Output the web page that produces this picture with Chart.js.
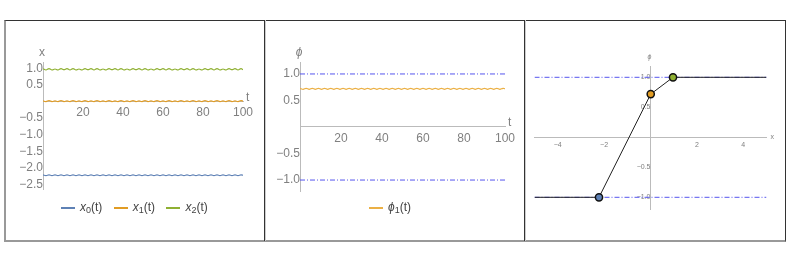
<!DOCTYPE html>
<html>
<head>
<meta charset="utf-8">
<script src="https://cdn.jsdelivr.net/npm/chart.js@4/dist/chart.umd.min.js"></script>
<style>
  body { margin: 0; width: 789px; height: 263px; background: #fff; position: relative; overflow: hidden; font-family: "Liberation Sans", Arial, sans-serif; }
  .panel { position: absolute; top: 20px; width: 260px; height: 221px; }
  .frame { position: absolute; left: 4px; top: 20px; width: 779px; height: 219px; border-top: 1px solid #333; border-right: 1px solid #333; border-left: 2px solid #999; border-bottom: 2px solid #999; pointer-events: none; box-sizing: content-box; }
  .divider { position: absolute; top: 20px; height: 221px; width: 1px; background: #333; border-right: 1px solid #ccc; }
  .legend { position: absolute; top: 200px; font-size: 12px; color: #444; white-space: nowrap; }
  .legend span.item { margin-right: 8px; }
  .legend .ln { display: inline-block; width: 14px; height: 1.5px; vertical-align: middle; margin-right: 5px; }
  .legend sub { font-size: 9px; vertical-align: -2px; }
</style>
</head>
<body>
<div class="panel" style="left:4px"><canvas id="c1"></canvas></div>
<div class="panel" style="left:264px"><canvas id="c2"></canvas></div>
<div class="panel" style="left:524px"><canvas id="c3"></canvas></div>
<div class="frame"></div>
<div class="divider" style="left:264px"></div>
<div class="divider" style="left:524px"></div>
<div class="legend" style="left:61px">
  <span class="item"><span class="ln" style="background:#5e81b5"></span><i>x</i><sub>0</sub>(t)</span>
  <span class="item"><span class="ln" style="background:#e19c24"></span><i>x</i><sub>1</sub>(t)</span>
  <span class="item"><span class="ln" style="background:#8fb032"></span><i>x</i><sub>2</sub>(t)</span>
</div>
<div class="legend" style="left:369px">
  <span class="item"><span class="ln" style="background:#ebb045"></span><i>ϕ</i><sub>1</sub>(t)</span>
</div>
<script>
var tValues = [0,1.5,3,4.5,6,7.5,9,10.5,12,13.5,15,16.5,18,19.5,21,22.5,24,25.5,27,28.5,
  30,31.5,33,34.5,36,37.5,39,40.5,42,43.5,45,46.5,48,49.5,51,52.5,54,55.5,57,58.5,
  60,61.5,63,64.5,66,67.5,69,70.5,72,73.5,75,76.5,78,79.5,81,82.5,84,85.5,87,88.5,
  90,91.5,93,94.5,96,97.5,99,100];

var x0Values = [-2.21,-2.23,-2.21,-2.23,-2.21,-2.23,-2.21,-2.23,-2.21,-2.23,
  -2.21,-2.23,-2.21,-2.23,-2.21,-2.23,-2.21,-2.23,-2.21,-2.23,
  -2.21,-2.23,-2.21,-2.23,-2.21,-2.23,-2.21,-2.23,-2.21,-2.23,
  -2.21,-2.23,-2.21,-2.23,-2.21,-2.23,-2.21,-2.23,-2.21,-2.23,
  -2.21,-2.23,-2.21,-2.23,-2.21,-2.23,-2.21,-2.23,-2.21,-2.23,
  -2.21,-2.23,-2.21,-2.23,-2.21,-2.23,-2.21,-2.23,-2.21,-2.23,
  -2.21,-2.23,-2.21,-2.23,-2.21,-2.23,-2.21,-2.22];

var x1Values = [0.02,0.0,0.03,0.0,0.02,0.0,0.03,0.0,0.02,0.0,
  0.03,0.0,0.02,0.0,0.03,0.0,0.02,0.0,0.03,0.0,
  0.02,0.0,0.03,0.0,0.02,0.0,0.03,0.0,0.02,0.0,
  0.03,0.0,0.02,0.0,0.03,0.0,0.02,0.0,0.03,0.0,
  0.02,0.0,0.03,0.0,0.02,0.0,0.03,0.0,0.02,0.0,
  0.03,0.0,0.02,0.0,0.03,0.0,0.02,0.0,0.03,0.0,
  0.02,0.0,0.03,0.0,0.02,0.0,0.03,0.01];

var x2Values = [0.99,0.95,0.99,0.95,0.98,0.95,0.99,0.96,0.99,0.95,
  0.99,0.95,0.98,0.95,0.99,0.96,0.99,0.95,0.99,0.95,
  0.98,0.95,0.99,0.96,0.99,0.95,0.99,0.95,0.98,0.95,
  0.99,0.96,0.99,0.95,0.99,0.95,0.98,0.95,0.99,0.96,
  0.99,0.95,0.99,0.95,0.98,0.95,0.99,0.96,0.99,0.95,
  0.99,0.95,0.98,0.95,0.99,0.96,0.99,0.95,0.99,0.95,
  0.98,0.95,0.99,0.96,0.99,0.95,0.99,0.96];

var phi1Values = [0.73,0.71,0.73,0.71,0.73,0.71,0.73,0.71,0.73,0.71,
  0.73,0.71,0.73,0.71,0.73,0.71,0.73,0.71,0.73,0.71,
  0.73,0.71,0.73,0.71,0.73,0.71,0.73,0.71,0.73,0.71,
  0.73,0.71,0.73,0.71,0.73,0.71,0.73,0.71,0.73,0.71,
  0.73,0.71,0.73,0.71,0.73,0.71,0.73,0.71,0.73,0.71,
  0.73,0.71,0.73,0.71,0.73,0.71,0.73,0.71,0.73,0.71,
  0.73,0.71,0.73,0.71,0.73,0.71,0.73,0.72];

var boundT = [0, 100];
var boundX = [-5, 5];
var upperBound = [1, 1];
var lowerBound = [-1, -1];

// third panel: phi as a function of x, through the three site values
var profileX = [-5, -2.22, 0.01, 0.97, 5];
var profileY = [-1, -1, 0.72, 1, 1];
var siteX = [-2.22, 0.01, 0.97];
var siteY = [-1, 0.72, 1];
var siteColors = ["#5e81b5", "#e19c24", "#8fb032"];

var tTicks = [20, 40, 60, 80, 100];
var x1Ticks = [1.0, 0.5, -0.5, -1.0, -1.5, -2.0, -2.5];
var phiTicks = [1.0, 0.5, -0.5, -1.0];
var xTicks3 = [-4, -2, 2, 4];

function pts(xs, ys) {
  return xs.map(function (x, i) { return { x: x, y: ys[i] }; });
}

function fmt(v, dec) {
  var s = Math.abs(v).toFixed(dec);
  return v < 0 ? "\u2212" + s : s;
}

var axisNames = {
  id: "axisNames",
  afterDraw: function (chart, args, opts) {
    var ctx = chart.ctx;
    var xs = chart.scales.x, ys = chart.scales.y;
    var x0 = xs.getPixelForValue(0), y0 = ys.getPixelForValue(0);
    ctx.save();
    ctx.fillStyle = opts.color;
    ctx.font = opts.size + "px 'Liberation Sans', Arial, sans-serif";
    ctx.textAlign = "left";
    ctx.textBaseline = "middle";
    ctx.fillText(opts.xName, xs.right + opts.xGap, y0 - opts.xLift);
    ctx.font = (opts.yItalic ? "italic " : "") + opts.size + "px 'Liberation Sans', Arial, sans-serif";
    ctx.textAlign = "center";
    ctx.fillText(opts.yName, x0 - 1, ys.top - opts.yGap);
    ctx.restore();
  }
};

function axes(xMin, xMax, xList, xDec, yMin, yMax, yList, yDec, fontSize, xPad, yPad) {
  var lineCol = "#bbbbbb";
  return {
    x: {
      type: "linear", min: xMin, max: xMax, position: { y: 0 },
      afterBuildTicks: function (s) { s.ticks = xList.map(function (v) { return { value: v }; }); },
      grid: { display: true, drawOnChartArea: false, drawTicks: false },
      border: { display: true, color: lineCol, width: 1 },
      ticks: { autoSkip: false, maxRotation: 0, padding: xPad, color: "#808080",
        font: { size: fontSize, family: "'Liberation Sans', Arial, sans-serif" },
        callback: function (v) { return fmt(v, xDec); } }
    },
    y: {
      type: "linear", min: yMin, max: yMax, position: { x: 0 },
      afterBuildTicks: function (s) { s.ticks = yList.map(function (v) { return { value: v }; }); },
      grid: { display: true, drawOnChartArea: false, drawTicks: false },
      border: { display: true, color: lineCol, width: 1 },
      ticks: { autoSkip: false, padding: yPad, color: "#808080",
        font: { size: fontSize, family: "'Liberation Sans', Arial, sans-serif" },
        callback: function (v) { return fmt(v, yDec); } }
    }
  };
}

function baseOptions(padding, scales, names) {
  return {
    responsive: true,
    maintainAspectRatio: false,
    animation: false,
    layout: { padding: padding },
    plugins: { legend: { display: false }, tooltip: { enabled: false }, axisNames: names },
    scales: scales
  };
}

function wave(label, xs, ys, color) {
  return { label: label, data: pts(xs, ys), borderColor: color, borderWidth: 1.2,
    pointRadius: 0, tension: 0.4, fill: false };
}

function dashed(xs, ys) {
  return { data: pts(xs, ys), borderColor: "#5555ee", borderWidth: 1, borderDash: [5, 2, 1, 2],
    pointRadius: 0, fill: false, order: 3 };
}

new Chart(document.getElementById("c1"), {
  type: "line",
  data: {
    datasets: [
      wave("x0(t)", tValues, x0Values, "#5e81b5"),
      wave("x1(t)", tValues, x1Values, "#e19c24"),
      wave("x2(t)", tValues, x2Values, "#8fb032")
    ]
  },
  options: baseOptions({ left: 39, right: 21, top: 42.7, bottom: 51.5 },
    axes(0, 100, tTicks, 0, -2.65, 1.17, x1Ticks, 1, 12, 4, 3),
    { xName: "t", yName: "x", yItalic: false, size: 12, color: "#808080", xGap: 3, xLift: 4, yGap: 10 }),
  plugins: [axisNames]
});

new Chart(document.getElementById("c2"), {
  type: "line",
  data: {
    datasets: [
      wave("phi1(t)", tValues, phi1Values, "#ebb045"),
      dashed(boundT, upperBound),
      dashed(boundT, lowerBound)
    ]
  },
  options: baseOptions({ left: 36, right: 19, top: 42.3, bottom: 49.3 },
    axes(0, 100, tTicks, 0, -1.22, 1.22, phiTicks, 1, 12, 4, 3),
    { xName: "t", yName: "ϕ", yItalic: true, size: 12, color: "#808080", xGap: 3, xLift: 4, yGap: 10 }),
  plugins: [axisNames]
});

new Chart(document.getElementById("c3"), {
  type: "line",
  data: {
    datasets: [
      { data: pts(siteX, siteY), showLine: false, pointRadius: 3.6, pointBorderWidth: 1.5,
        pointBorderColor: "#111", pointBackgroundColor: siteColors, order: 0 },
      { data: pts(profileX, profileY), borderColor: "#222", borderWidth: 1, pointRadius: 0,
        fill: false, order: 1 },
      dashed(boundX, upperBound),
      dashed(boundX, lowerBound)
    ]
  },
  options: baseOptions({ left: 10.5, right: 17.5, top: 46.5, bottom: 31.7 },
    axes(-5, 5, xTicks3, 0, -1.2, 1.18, phiTicks, 1, 7, 4, 2),
    { xName: "x", yName: "ϕ", yItalic: true, size: 7, color: "#808080", xGap: 4, xLift: 0, yGap: 9 }),
  plugins: [axisNames]
});
</script>
</body>
</html>
